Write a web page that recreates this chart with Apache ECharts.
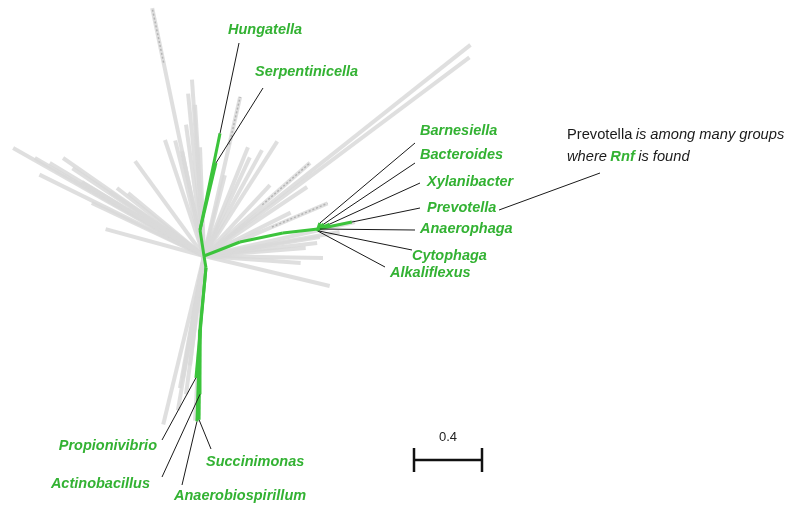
<!DOCTYPE html>
<html>
<head>
<meta charset="utf-8">
<script src="https://cdn.jsdelivr.net/npm/echarts@6/dist/echarts.min.js"></script>
<style>
  html, body { margin: 0; padding: 0; background: #fff; }
  #chart { width: 793px; height: 511px; }
</style>
</head>
<body>
<div id="chart"></div>
<script>
// Unrooted tree: each branch is [angle in degrees, branch length in substitutions/site]

// Grey background lineages, all hanging off the central hub
const greyBranches = [
  [101.8, 1.49], [150.5, 1.29], [149.9, 1.15], [153.7, 1.08], [145.2, 1.01],
  [154.7, 0.73], [164.7, 0.60], [142.0, 0.65], [126.0, 0.69], [108.6, 0.72],
  [148.9, 1.06], [146.3, 0.93], [148.8, 0.84], [145.7, 0.67], [140.3, 0.58],
  [93.9, 1.04], [95.6, 0.96], [93.4, 0.89], [101.9, 0.63], [92.1, 0.64],
  [104.0, 0.70], [97.8, 0.78], [68.0, 0.69], [65.1, 0.64], [77.2, 0.96],
  [75.5, 0.49], [38.4, 2.00], [36.8, 1.95], [41.3, 0.83], [57.4, 0.80],
  [61.3, 0.71], [33.8, 0.73], [23.1, 0.79], [26.6, 0.57], [47.1, 0.57],
  [-1.0, 0.70], [-4.2, 0.57], [-13.4, 0.76], [6.6, 0.67], [9.3, 0.69],
  [4.5, 0.60], [12.7, 0.91], [10.0, 0.81],
  [-103.6, 1.02], [-100.3, 0.79], [-99.8, 0.73], [-97.3, 0.65], [-97.4, 0.82],
  [-93.1, 0.97], [-99.6, 0.92]
];
// Grey lineages with densely packed leaves near the tip: [branch index, tip fraction]
const denseTips = [[0, 0.22], [28, 0.45], [32, 0.45], [24, 0.3]];

// Rnf-carrying clades (green)
const upStem = [[98.7, 0.155], [78.3, 0.58]];            // ends at Hungatella
const serpentinicellaBranch = [76.6, 0.405];             // from first node of upStem
const rightStem = [[21.3, 0.227], [11.8, 0.258], [6.5, 0.207]];
const rightTipNames = ['Barnesiella', 'Bacteroides', 'Xylanibacter', 'Prevotella',
                       'Anaerophaga', 'Cytophaga', 'Alkaliflexus'];
const rightTips = [[71.6, 0.037], [39.8, 0.046], [22.6, 0.076], [11.6, 0.204],
                   [0, 0.012], [-63, 0.013], [-90, 0.012]];
const downStem = [-80.5, 0.07];
const propionivibrioBranch = [-95.2, 0.65];              // from end of downStem
const downInner = [-95.5, 0.366];
const downTipNames = ['Actinobacillus', 'Succinimonas', 'Anaerobiospirillum'];
const downTips = [[-90, 0.38], [-90.6, 0.53], [-91.9, 0.54]];

const scaleBarValue = 0.4;

// ---- tree geometry in branch-length units ----
function step(p, b) {
  const a = b[0] * Math.PI / 180;
  return [p[0] + b[1] * Math.cos(a), p[1] + b[1] * Math.sin(a)];
}
const hub = [0, 0];
const greySegs = [], denseSegs = [], greenSegs = [], tips = {};

greyBranches.forEach(function (b) { greySegs.push([hub, step(hub, b)]); });
denseTips.forEach(function (d) {
  const b = greyBranches[d[0]];
  const start = step(hub, [b[0], b[1] * (1 - d[1])]);
  denseSegs.push([start, step(hub, b)]);
});

// upper clade
const u1 = step(hub, upStem[0]);
const u2 = step(u1, upStem[1]);
greenSegs.push([hub, u1], [u1, u2]);
tips['Hungatella'] = u2;
const serp = step(u1, serpentinicellaBranch);
greenSegs.push([u1, serp]);
tips['Serpentinicella'] = serp;

// Bacteroidetes clade
let r = hub;
rightStem.forEach(function (b) { const n = step(r, b); greenSegs.push([r, n]); r = n; });
rightTipNames.forEach(function (name, i) {
  const t = step(r, rightTips[i]);
  greenSegs.push([r, t]);
  tips[name] = t;
});

// proteobacterial clade
const d0 = step(hub, downStem);
greenSegs.push([hub, d0]);
const prop = step(d0, propionivibrioBranch);
greenSegs.push([d0, prop]);
tips['Propionivibrio'] = prop;
const d1 = step(d0, downInner);
greenSegs.push([d0, d1]);
downTipNames.forEach(function (name, i) {
  const t = step(d1, downTips[i]);
  greenSegs.push([d1, t]);
  tips[name] = t;
});

// ---- label placement (pixels): pointer end, text anchor, alignment ----
const labelLayout = {
  'Hungatella':         { p: [239, 43],  t: [228, 30],  align: 'left' },
  'Serpentinicella':    { p: [263, 88],  t: [255, 72],  align: 'left' },
  'Barnesiella':        { p: [415, 143], t: [420, 131], align: 'left' },
  'Bacteroides':        { p: [415, 163], t: [420, 155], align: 'left' },
  'Xylanibacter':       { p: [420, 183], t: [427, 182], align: 'left' },
  'Prevotella':         { p: [420, 208], t: [427, 208], align: 'left' },
  'Anaerophaga':        { p: [415, 230], t: [420, 229], align: 'left' },
  'Cytophaga':          { p: [412, 250], t: [412, 256], align: 'left' },
  'Alkaliflexus':       { p: [385, 267], t: [390, 273], align: 'left' },
  'Propionivibrio':     { p: [162, 440], t: [157, 446], align: 'right' },
  'Actinobacillus':     { p: [162, 477], t: [150, 484], align: 'right' },
  'Succinimonas':       { p: [211, 449], t: [206, 462], align: 'left' },
  'Anaerobiospirillum': { p: [182, 485], t: [174, 496], align: 'left' }
};
const labelNames = Object.keys(labelLayout);

const PX = 170;                    // pixels per unit branch length
const HUB_PX = [204, 256];
const W = 793, H = 511;
const FONT = '"Liberation Sans", Arial, Helvetica, sans-serif';
const LABEL_GREEN = '#33b233';
const LINE_GREEN = '#3cc43c';

function segData(segs) {
  return segs.map(function (s) { return [s[0][0], s[0][1], s[1][0], s[1][1]]; });
}
function segRenderer(color, width, dash, opacity) {
  return function (params, api) {
    const a = api.coord([api.value(0), api.value(1)]);
    const b = api.coord([api.value(2), api.value(3)]);
    return {
      type: 'line',
      shape: { x1: a[0], y1: a[1], x2: b[0], y2: b[1] },
      style: { stroke: color, lineWidth: width, lineDash: dash || null, opacity: opacity == null ? 1 : opacity }
    };
  };
}

const sbX = (414 - HUB_PX[0]) / PX, sbY = (HUB_PX[1] - 460) / PX, sbTick = 12 / PX;
const scaleSegs = [
  [[sbX, sbY], [sbX + scaleBarValue, sbY]],
  [[sbX, sbY - sbTick], [sbX, sbY + sbTick]],
  [[sbX + scaleBarValue, sbY - sbTick], [sbX + scaleBarValue, sbY + sbTick]]
];

const chart = echarts.init(document.getElementById('chart'), null, { renderer: 'canvas' });
chart.setOption({
  animation: false,
  backgroundColor: '#ffffff',
  grid: { left: 0, right: 0, top: 0, bottom: 0 },
  xAxis: { type: 'value', min: -HUB_PX[0] / PX, max: (W - HUB_PX[0]) / PX, show: false },
  yAxis: { type: 'value', min: -(H - HUB_PX[1]) / PX, max: HUB_PX[1] / PX, show: false },
  series: [
    { type: 'custom', renderItem: segRenderer('#d9d9d9', 4, null, 0.85), data: segData(greySegs),
      encode: { x: [0, 2], y: [1, 3] }, silent: true },
    { type: 'custom', renderItem: segRenderer('#a5a5a5', 1.5, [2, 2], 0.75), data: segData(denseSegs),
      encode: { x: [0, 2], y: [1, 3] }, silent: true },
    { type: 'custom', renderItem: segRenderer(LINE_GREEN, 3), data: segData(greenSegs),
      encode: { x: [0, 2], y: [1, 3] }, silent: true },
    { type: 'custom', renderItem: segRenderer('#111111', 2.5), data: segData(scaleSegs),
      encode: { x: [0, 2], y: [1, 3] }, silent: true },
    {
      type: 'custom', silent: true,
      data: labelNames.map(function (n, i) { return [tips[n][0], tips[n][1], i]; }),
      encode: { x: 0, y: 1 },
      renderItem: function (params, api) {
        const name = labelNames[api.value(2)];
        const lay = labelLayout[name];
        const tip = api.coord([api.value(0), api.value(1)]);
        return {
          type: 'group',
          children: [
            { type: 'line', shape: { x1: tip[0], y1: tip[1], x2: lay.p[0], y2: lay.p[1] },
              style: { stroke: '#1a1a1a', lineWidth: 1 } },
            { type: 'text', x: lay.t[0], y: lay.t[1],
              style: { text: name, fill: LABEL_GREEN, font: 'italic bold 14.5px ' + FONT,
                       align: lay.align, verticalAlign: 'middle' } }
          ]
        };
      }
    }
  ],
  graphic: [
    { type: 'text', silent: true, x: 448, y: 437,
      style: { text: String(scaleBarValue), fill: '#222', font: '13px ' + FONT, align: 'center', verticalAlign: 'middle' } },
    { type: 'line', silent: true, shape: { x1: 499, y1: 210, x2: 600, y2: 173 },
      style: { stroke: '#1a1a1a', lineWidth: 1 } },
    { type: 'text', silent: true, x: 567, y: 124,
      style: {
        text: '{n|Prevotella} {i|is among many groups}\n{i|where} {g|Rnf} {i|is found}',
        rich: {
          n: { font: '14.7px ' + FONT, fill: '#1a1a1a', lineHeight: 22 },
          i: { font: 'italic 14.7px ' + FONT, fill: '#1a1a1a', lineHeight: 22 },
          g: { font: 'italic bold 14.7px ' + FONT, fill: LABEL_GREEN, lineHeight: 22 }
        }
      } }
  ]
});
</script>
</body>
</html>
